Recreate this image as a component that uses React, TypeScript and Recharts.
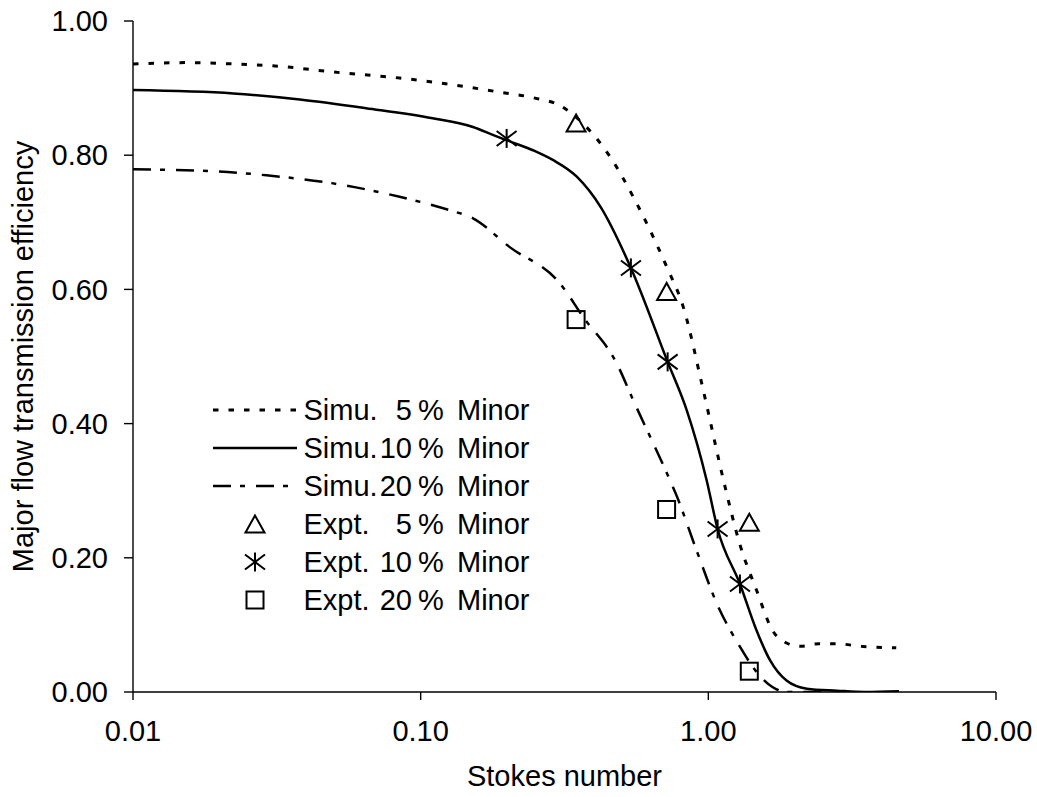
import React from 'react';
import { ComposedChart, Line, Scatter, XAxis, YAxis } from 'recharts';

const FONT = '"Liberation Sans", Arial, Helvetica, sans-serif';
const FS = 29;

// Simulation curves (Stokes number, efficiency)
const sim5St = [0.01, 0.0157, 0.0223, 0.0332, 0.0496, 0.0845, 0.144, 0.188, 0.25, 0.305, 0.367, 0.455, 0.548, 0.716, 0.818, 0.96, 1.14, 1.285, 1.47, 1.67, 1.87, 2.08, 2.43, 2.78, 3.4, 4.5];
const sim5Eff = [0.936, 0.938, 0.936, 0.932, 0.924, 0.915, 0.902, 0.894, 0.885, 0.874, 0.847, 0.798, 0.738, 0.634, 0.574, 0.45, 0.308, 0.221, 0.152, 0.092, 0.073, 0.068, 0.072, 0.072, 0.068, 0.066];

const sim10St = [0.01, 0.0223, 0.038, 0.0646, 0.11, 0.152, 0.179, 0.2, 0.25, 0.288, 0.349, 0.422, 0.538, 0.722, 0.841, 0.986, 1.077, 1.288, 1.47, 1.64, 1.87, 2.2, 2.8, 3.5, 4.6];
const sim10Eff = [0.897, 0.892, 0.883, 0.87, 0.855, 0.842, 0.83, 0.822, 0.806, 0.793, 0.768, 0.723, 0.632, 0.492, 0.42, 0.316, 0.243, 0.161, 0.092, 0.047, 0.017, 0.005, 0.002, 0.0, 0.001];

const sim20St = [0.01, 0.0195, 0.0291, 0.0496, 0.0845, 0.126, 0.152, 0.204, 0.305, 0.367, 0.48, 0.548, 0.735, 0.77, 0.91, 1.07, 1.29, 1.47, 1.67, 1.87, 2.1, 2.6];
const sim20Eff = [0.779, 0.776, 0.77, 0.758, 0.738, 0.718, 0.706, 0.663, 0.609, 0.559, 0.49, 0.435, 0.316, 0.296, 0.211, 0.132, 0.067, 0.03, 0.0075, 0.0, 0.0, 0.0];

// Experimental points
const exp5St = [0.347, 0.716, 1.388];
const exp5Eff = [0.848, 0.597, 0.253];
const exp10St = [0.199, 0.538, 0.722, 1.077, 1.288];
const exp10Eff = [0.825, 0.632, 0.492, 0.243, 0.161];
const exp20St = [0.347, 0.716, 1.388];
const exp20Eff = [0.555, 0.272, 0.031];

const xTicks = [0.01, 0.1, 1, 10];
const yTicks = [0, 0.2, 0.4, 0.6, 0.8, 1.0];

const legendPrefixes = ['Simu.', 'Simu.', 'Simu.', 'Expt.', 'Expt.', 'Expt.'];
const legendPercents = ['5', '10', '20', '5', '10', '20'];
const legendKinds = ['dot', 'solid', 'dashdot', 'triangle', 'asterisk', 'square'];

const toPts = (xs: number[], ys: number[]) => xs.map((x, i) => ({ x, y: ys[i] }));

const sim5 = toPts(sim5St, sim5Eff);
const sim10 = toPts(sim10St, sim10Eff);
const sim20 = toPts(sim20St, sim20Eff);
const exp5 = toPts(exp5St, exp5Eff);
const exp10 = toPts(exp10St, exp10Eff);
const exp20 = toPts(exp20St, exp20Eff);

const DOT_DASH = '5.5 10';
const DASHDOT_DASH = '18 9 5 11';

const Triangle = (p: any) => {
  const { cx, cy } = p;
  return (
    <polygon
      points={`${cx},${cy - 8.5} ${cx - 9.5},${cy + 8.5} ${cx + 9.5},${cy + 8.5}`}
      fill="none"
      stroke="#000"
      strokeWidth={2}
    />
  );
};

const Asterisk = (p: any) => {
  const { cx, cy } = p;
  return (
    <g stroke="#000" strokeWidth={2} fill="none">
      <line x1={cx} y1={cy - 9.5} x2={cx} y2={cy + 9.5} />
      <line x1={cx - 10} y1={cy - 7.5} x2={cx + 10} y2={cy + 7.5} />
      <line x1={cx - 10} y1={cy + 7.5} x2={cx + 10} y2={cy - 7.5} />
    </g>
  );
};

const Square = (p: any) => {
  const { cx, cy } = p;
  return <rect x={cx - 8.5} y={cy - 8.5} width={17} height={17} fill="none" stroke="#000" strokeWidth={2} />;
};

const LegendIcon = ({ kind }: { kind: string }) => {
  const w = 84;
  const h = 38;
  const cy = 19;
  let content: any = null;
  if (kind === 'dot') content = <line x1={0} y1={cy} x2={w} y2={cy} stroke="#000" strokeWidth={3} strokeDasharray={DOT_DASH} />;
  else if (kind === 'solid') content = <line x1={0} y1={cy} x2={w} y2={cy} stroke="#000" strokeWidth={2.5} />;
  else if (kind === 'dashdot') content = <line x1={0} y1={cy} x2={w} y2={cy} stroke="#000" strokeWidth={2.5} strokeDasharray={DASHDOT_DASH} />;
  else if (kind === 'triangle') content = <Triangle cx={w / 2} cy={cy} />;
  else if (kind === 'asterisk') content = <Asterisk cx={w / 2} cy={cy} />;
  else content = <Square cx={w / 2} cy={cy} />;
  return (
    <svg width={w} height={h} style={{ position: 'absolute', left: 0, top: 0 }}>
      {content}
    </svg>
  );
};

const tickStyle = { fontSize: FS, fill: '#000', fontFamily: FONT };

export default function App() {
  return (
    <div style={{ position: 'relative', width: 1037, height: 797, fontFamily: FONT, overflow: 'hidden' }}>
      <style>{'html,body{margin:0;padding:0;overflow:hidden;background:#fff;}'}</style>
      <ComposedChart
        width={1037}
        height={797}
        margin={{ top: 21, right: 41, bottom: 0, left: 8 }}
        style={{ fontFamily: FONT }}
      >
        <XAxis
          xAxisId={0}
          dataKey="x"
          type="number"
          scale="log"
          domain={[0.01, 10]}
          allowDataOverflow
          ticks={xTicks}
          tickFormatter={(v: number) => v.toFixed(2)}
          tick={tickStyle}
          tickSize={8}
          tickMargin={20}
          height={105}
          axisLine={{ stroke: '#000', strokeWidth: 1.4 }}
          tickLine={{ stroke: '#000', strokeWidth: 1.4 }}
          interval={0}
          label={{
            content: (props: any) => {
              const vb = props.viewBox || {};
              return (
                <text
                  x={vb.x + vb.width / 2}
                  y={vb.y + 94}
                  textAnchor="middle"
                  fontSize={FS}
                  fontFamily={FONT}
                  fill="#000"
                >
                  Stokes number
                </text>
              );
            },
          }}
        />
        <XAxis
          xAxisId="top"
          orientation="top"
          dataKey="x"
          type="number"
          scale="log"
          domain={[0.01, 10]}
          allowDataOverflow
          height={0}
          tick={false}
          tickLine={false}
          axisLine={{ stroke: '#808080', strokeWidth: 1.5 }}
        />
        <YAxis
          yAxisId={0}
          dataKey="y"
          type="number"
          domain={[0, 1]}
          allowDataOverflow
          ticks={yTicks}
          tickFormatter={(v: number) => v.toFixed(2)}
          tick={tickStyle}
          tickSize={9}
          tickMargin={16}
          width={125}
          interval={0}
          axisLine={{ stroke: '#000', strokeWidth: 1.4 }}
          tickLine={{ stroke: '#000', strokeWidth: 1.4 }}
          label={{
            content: (props: any) => {
              const vb = props.viewBox || {};
              const cy = vb.y + vb.height / 2;
              const cx = 23;
              return (
                <text
                  x={cx}
                  y={cy}
                  transform={`rotate(-90, ${cx}, ${cy})`}
                  textAnchor="middle"
                  dominantBaseline="central"
                  fontSize={FS}
                  fontFamily={FONT}
                  fill="#000"
                >
                  Major flow transmission efficiency
                </text>
              );
            },
          }}
        />
        <YAxis
          yAxisId="right"
          orientation="right"
          type="number"
          domain={[0, 1]}
          width={0}
          tick={false}
          tickLine={false}
          axisLine={{ stroke: '#808080', strokeWidth: 1.5 }}
        />
        <Line
          data={sim5}
          dataKey="y"
          type="monotone"
          stroke="#000"
          strokeWidth={3}
          strokeDasharray={DOT_DASH}
          dot={false}
          activeDot={false}
          isAnimationActive={false}
        />
        <Line
          data={sim10}
          dataKey="y"
          type="monotone"
          stroke="#000"
          strokeWidth={2.5}
          dot={false}
          activeDot={false}
          isAnimationActive={false}
        />
        <Line
          data={sim20}
          dataKey="y"
          type="monotone"
          stroke="#000"
          strokeWidth={2.5}
          strokeDasharray={DASHDOT_DASH}
          dot={false}
          activeDot={false}
          isAnimationActive={false}
        />
        <Scatter data={exp5} dataKey="y" shape={(p: any) => <Triangle {...p} />} isAnimationActive={false} />
        <Scatter data={exp10} dataKey="y" shape={(p: any) => <Asterisk {...p} />} isAnimationActive={false} />
        <Scatter data={exp20} dataKey="y" shape={(p: any) => <Square {...p} />} isAnimationActive={false} />
      </ComposedChart>
      <div style={{ position: 'absolute', left: 213, top: 391, fontSize: FS, color: '#000', width: 340 }}>
        {legendKinds.map((k, i) => (
          <div key={i} style={{ position: 'relative', height: 38, lineHeight: '38px', whiteSpace: 'pre' }}>
            <LegendIcon kind={k} />
            <span style={{ position: 'absolute', left: 90.5, top: 0 }}>{legendPrefixes[i]}</span>
            <span style={{ position: 'absolute', left: 159, width: 40, top: 0, textAlign: 'right' }}>{legendPercents[i]}</span>
            <span style={{ position: 'absolute', left: 205, top: 0 }}>%</span>
            <span style={{ position: 'absolute', left: 244, top: 0 }}>Minor</span>
          </div>
        ))}
      </div>
    </div>
  );
}
